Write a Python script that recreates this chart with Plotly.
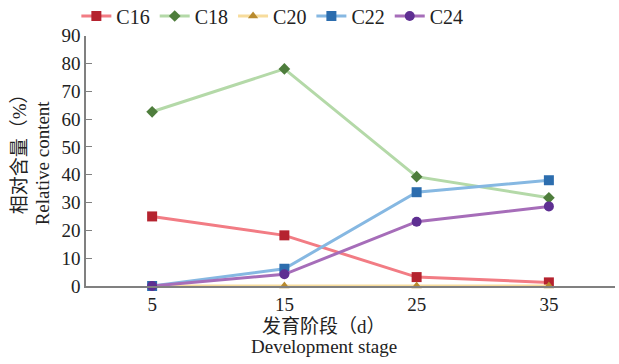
import plotly.graph_objects as go

stages = [5, 15, 25, 35]
c16 = [25.0, 18.2, 3.2, 1.3]
c18 = [62.6, 78.0, 39.3, 31.7]
c20 = [0.0, 0.0, 0.0, 0.0]
c22 = [0.0, 6.2, 33.7, 38.0]
c24 = [0.0, 4.2, 23.1, 28.6]
y_ticks = [0, 10, 20, 30, 40, 50, 60, 70, 80, 90]

series = [
    ("C16", c16, "#F27C84", "#B5232F", "square", 10),
    ("C18", c18, "#B4D9A8", "#4E7D3C", "diamond", 9),
    ("C20", c20, "#F7DC9C", "#B88A2E", "triangle-up", 9),
    ("C22", c22, "#86B8E2", "#2C6DAE", "square", 10),
    ("C24", c24, "#A66DB9", "#5E2F92", "circle", 10),
]

FONT = "Liberation Serif, Times New Roman, Noto Sans CJK SC, serif"

fig = go.Figure()
for name, vals, lc, mc, sym, sz in series:
    fig.add_trace(go.Scatter(
        x=stages, y=vals, name=name, mode="lines+markers",
        line=dict(color=lc, width=3),
        marker=dict(color=mc, symbol=sym, size=sz),
        cliponaxis=False,
    ))

fig.update_layout(
    width=619, height=364,
    margin=dict(l=86, r=4, t=30, b=78),
    paper_bgcolor="white", plot_bgcolor="white",
    font=dict(family=FONT, size=19, color="#222222"),
    showlegend=True,
    legend=dict(orientation="h", xref="container", yref="container",
                x=0.44, xanchor="center", y=0.956, yanchor="middle",
                font=dict(size=20, family=FONT, color="#222222"), itemwidth=30,
                tracegroupgap=0, bgcolor="rgba(0,0,0,0)"),
    xaxis=dict(range=[0, 40], tickvals=stages, ticktext=[str(s) for s in stages],
               showgrid=False, zeroline=False, showline=True, linecolor="#808080",
               linewidth=1.5, ticks="", tickfont=dict(size=19, family=FONT),
               automargin=False),
    yaxis=dict(range=[0, 90], tickvals=y_ticks, showgrid=False, zeroline=False,
               showline=True, linecolor="#808080", linewidth=1.5,
               ticks="inside", ticklen=6, tickcolor="#808080",
               tickfont=dict(size=19, family=FONT), automargin=False),
)

fig.add_annotation(text="相对含量（%）", xref="paper", yref="paper",
                   x=-0.125, y=0.545, textangle=-90, showarrow=False,
                   font=dict(size=19, family=FONT), xanchor="center", yanchor="middle")
fig.add_annotation(text="Relative content", xref="paper", yref="paper",
                   x=-0.083, y=0.49, textangle=-90, showarrow=False,
                   font=dict(size=19, family=FONT), xanchor="center", yanchor="middle")
fig.add_annotation(text="发育阶段（d）", xref="paper", yref="paper",
                   x=0.45, y=-0.16, showarrow=False,
                   font=dict(size=19, family=FONT), xanchor="center", yanchor="middle")
fig.add_annotation(text="Development stage", xref="paper", yref="paper",
                   x=0.45, y=-0.243, showarrow=False,
                   font=dict(size=19, family=FONT), xanchor="center", yanchor="middle")

fig.write_html("out.html", config={"displayModeBar": False},
               post_script="document.body.style.margin='0';document.body.style.overflow='hidden';")
